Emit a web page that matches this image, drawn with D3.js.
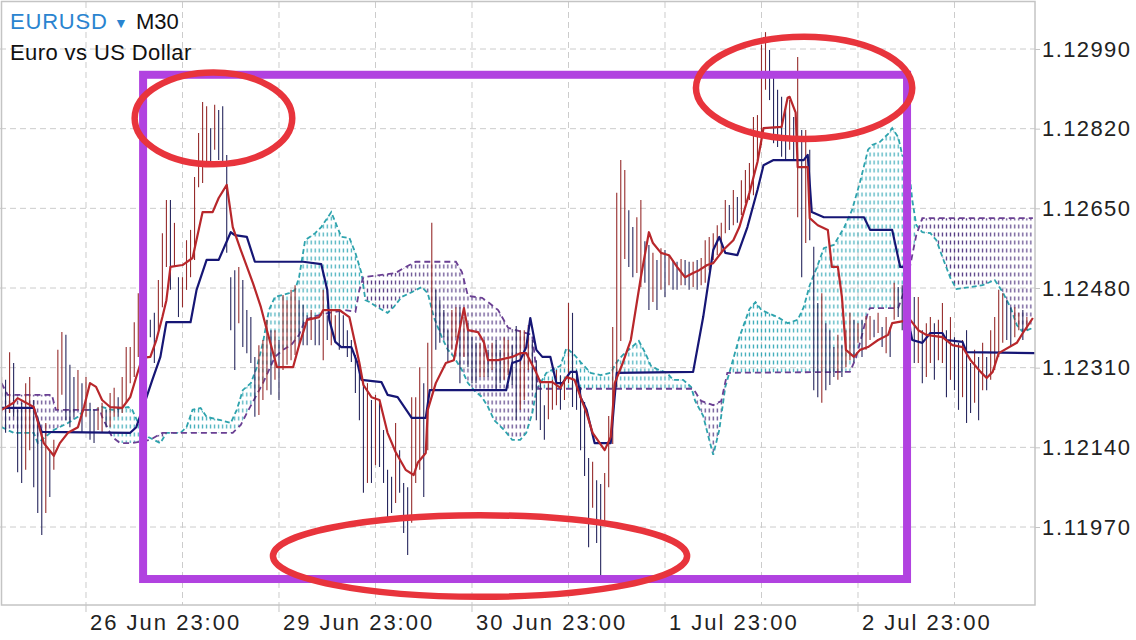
<!DOCTYPE html>
<html><head><meta charset="utf-8">
<script src="https://cdn.jsdelivr.net/npm/d3@7"></script>
<style>
html,body{margin:0;padding:0;background:#fff;}
svg{display:block;font-family:"Liberation Sans",Arial,Helvetica,sans-serif;}
</style></head><body>
<svg id="c" width="1136" height="640"></svg>
<script>
// ---------- DATA (EURUSD M30, bar index 0..255) ----------
const highs = [
1.12290,1.12284,1.12343,1.12320,1.12220,1.12235,1.12277,1.12290,1.12241,1.12205,
1.12171,1.12192,1.12134,1.12156,1.12348,1.12386,1.12380,1.12316,1.12290,1.12305,
1.12277,1.12290,1.12235,1.12220,1.12226,1.12235,1.12220,1.12256,1.12267,1.12247,
1.12290,1.12354,1.12354,1.12407,1.12469,1.12439,1.12418,1.12412,1.12427,1.12497,
1.12597,1.12668,1.12668,1.12619,1.12503,1.12503,1.12582,1.12604,1.12717,1.12811,
1.12877,1.12868,1.12821,1.12871,1.12860,1.12868,1.12764,1.12503,1.12518,1.12525,
1.12497,1.12433,1.12418,1.12333,1.12358,1.12369,1.12412,1.12390,1.12390,1.12369,
1.12465,1.12454,1.12476,1.12486,1.12454,1.12444,1.12422,1.12433,1.12422,1.12412,
1.12476,1.12422,1.12433,1.12422,1.12433,1.12422,1.12390,1.12369,1.12337,1.12316,
1.12277,1.12277,1.12241,1.12252,1.12235,1.12177,1.12092,1.12077,1.12192,1.12134,
1.12064,1.12055,1.12247,1.12247,1.12311,1.12277,1.12363,1.12619,1.12476,1.12454,
1.12433,1.12390,1.12433,1.12439,1.12439,1.12418,1.12405,1.12375,1.12363,1.12363,
1.12369,1.12348,1.12363,1.12369,1.12348,1.12375,1.12369,1.12358,1.12399,1.12390,
1.12390,1.12401,1.12369,1.12326,1.12284,1.12230,1.12277,1.12284,1.12305,1.12294,
1.12284,1.12448,1.12427,1.12305,1.12269,1.12237,1.12117,1.12109,1.12070,1.12062,
1.12085,1.12207,1.12397,1.12683,1.12753,1.12732,1.12646,1.12610,1.12631,1.12668,
1.12580,1.12572,1.12555,1.12540,1.12565,1.12561,1.12550,1.12540,1.12536,1.12542,
1.12540,1.12536,1.12536,1.12540,1.12544,1.12582,1.12589,1.12597,1.12614,1.12619,
1.12668,1.12657,1.12689,1.12674,1.12710,1.12732,1.12747,1.12845,1.12849,1.12999,
1.13026,1.12988,1.12939,1.12903,1.12888,1.12866,1.12881,1.12845,1.12973,1.12817,
1.12817,1.12775,1.12568,1.12448,1.12469,1.12405,1.12390,1.12354,1.12380,1.12358,
1.12390,1.12427,1.12412,1.12405,1.12412,1.12420,1.12420,1.12412,1.12427,1.12397,
1.12418,1.12397,1.12491,1.12482,1.12486,1.12476,1.12476,1.12461,1.12461,1.12390,
1.12405,1.12418,1.12405,1.12412,1.12448,1.12390,1.12418,1.12375,1.12363,1.12369,
1.12390,1.12320,1.12348,1.12333,1.12363,1.12333,1.12390,1.12418,1.12476,1.12469,
1.12454,1.12439,1.12439,1.12427,1.12433,1.12418];
const lows = [
1.12183,1.12171,1.12213,1.12205,1.12087,1.12064,1.12092,1.12134,1.12055,1.12000,
1.11953,1.12000,1.12034,1.12092,1.12220,1.12252,1.12198,1.12183,1.12205,1.12220,
1.12171,1.12205,1.12156,1.12149,1.12177,1.12171,1.12183,1.12183,1.12205,1.12205,
1.12213,1.12235,1.12277,1.12290,1.12333,1.12333,1.12375,1.12375,1.12320,1.12390,
1.12439,1.12525,1.12476,1.12525,1.12418,1.12439,1.12476,1.12503,1.12540,1.12695,
1.12704,1.12747,1.12742,1.12775,1.12753,1.12742,1.12555,1.12390,1.12305,1.12405,
1.12354,1.12341,1.12320,1.12205,1.12209,1.12241,1.12262,1.12252,1.12284,1.12241,
1.12305,1.12316,1.12326,1.12337,1.12358,1.12358,1.12358,1.12369,1.12358,1.12358,
1.12326,1.12369,1.12358,1.12369,1.12348,1.12354,1.12333,1.12322,1.12256,1.12198,
1.12043,1.12064,1.12064,1.12102,1.12098,1.12064,1.11991,1.12000,1.12021,1.12043,
1.11957,1.11910,1.11979,1.12064,1.12092,1.12034,1.12134,1.12262,1.12348,1.12363,
1.12375,1.12320,1.12348,1.12375,1.12277,1.12333,1.12311,1.12277,1.12277,1.12290,
1.12290,1.12290,1.12305,1.12262,1.12277,1.12284,1.12294,1.12273,1.12198,1.12220,
1.12241,1.12305,1.12262,1.12198,1.12177,1.12156,1.12200,1.12220,1.12230,1.12220,
1.12241,1.12277,1.12226,1.12220,1.12134,1.12079,1.11927,1.12011,1.11936,1.11865,
1.11981,1.12055,1.12147,1.12269,1.12367,1.12542,1.12525,1.12503,1.12512,1.12482,
1.12491,1.12433,1.12450,1.12433,1.12476,1.12461,1.12486,1.12476,1.12476,1.12486,
1.12486,1.12476,1.12482,1.12476,1.12486,1.12491,1.12518,1.12540,1.12550,1.12555,
1.12597,1.12604,1.12614,1.12619,1.12636,1.12661,1.12668,1.12678,1.12753,1.12785,
1.12903,1.12881,1.12789,1.12781,1.12760,1.12753,1.12775,1.12753,1.12631,1.12503,
1.12576,1.12582,1.12262,1.12247,1.12235,1.12262,1.12273,1.12290,1.12284,1.12290,
1.12311,1.12326,1.12322,1.12363,1.12333,1.12348,1.12369,1.12375,1.12384,1.12354,
1.12341,1.12333,1.12412,1.12418,1.12390,1.12427,1.12348,1.12320,1.12320,1.12277,
1.12290,1.12320,1.12284,1.12326,1.12320,1.12247,1.12284,1.12262,1.12220,1.12247,
1.12192,1.12213,1.12235,1.12198,1.12262,1.12262,1.12284,1.12305,1.12333,1.12363,
1.12369,1.12354,1.12375,1.12390,1.12369,1.12390];

// Ichimoku lines as [bar index, price] vertices
const tenkan = [[0,1.12220],[3,1.12235],[4,1.12245],[8,1.12226],[10.5,1.12149],[13,1.12122],[14.5,1.12149],[16.5,1.12171],[19,1.12183],[20.5,1.12226],[22,1.12277],[23.5,1.12269],[25,1.12241],[27,1.12226],[30,1.12224],[32,1.12247],[33.5,1.12290],[35,1.12331],[37,1.12333],[38.5,1.12369],[40,1.12418],[41,1.12454],[42,1.12525],[45,1.12529],[47.5,1.12544],[50,1.12642],[52.5,1.12642],[54,1.12672],[56,1.12700],[57.5,1.12610],[59.5,1.12561],[62.5,1.12491],[64.5,1.12439],[66,1.12390],[68.5,1.12311],[72.5,1.12311],[74,1.12358],[76,1.12412],[79,1.12418],[80,1.12433],[84,1.12433],[86.5,1.12418],[89,1.12320],[90,1.12273],[92,1.12247],[94,1.12241],[96,1.12171],[98,1.12130],[100.5,1.12092],[102.5,1.12081],[103.5,1.12107],[105.5,1.12128],[106,1.12220],[108,1.12277],[110.5,1.12320],[112.5,1.12326],[113.5,1.12375],[115,1.12437],[116,1.12390],[118.5,1.12386],[120,1.12363],[121,1.12326],[123.5,1.12326],[127,1.12333],[129,1.12341],[130.5,1.12341],[133,1.12299],[134,1.12279],[137,1.12279],[139,1.12267],[140.5,1.12290],[142.5,1.12284],[144,1.12247],[145.5,1.12213],[147,1.12171],[150,1.12134],[151.5,1.12162],[152.5,1.12277],[154.5,1.12320],[156.5,1.12369],[159,1.12503],[161,1.12599],[162,1.12576],[164,1.12555],[166,1.12550],[168,1.12525],[170,1.12503],[172,1.12512],[173.5,1.12518],[175.5,1.12529],[177,1.12533],[179.5,1.12561],[182,1.12582],[183.5,1.12610],[186,1.12683],[188,1.12749],[189.5,1.12821],[194,1.12824],[195.5,1.12886],[196,1.12888],[197.5,1.12854],[198,1.12738],[200.5,1.12738],[201,1.12629],[203,1.12614],[205.5,1.12604],[206.5,1.12525],[208,1.12525],[209,1.12461],[210,1.12348],[212,1.12333],[213.5,1.12348],[215.5,1.12354],[218,1.12369],[220.5,1.12380],[221.5,1.12405],[226,1.12412],[228,1.12390],[230,1.12380],[234,1.12375],[236.5,1.12358],[239,1.12354],[241,1.12326],[243.5,1.12301],[245,1.12288],[246.5,1.12301],[248,1.12341],[252.5,1.12363],[254,1.12384],[256.5,1.12416]];
const kijun = [[0,1.12224],[8,1.12224],[10,1.12173],[32,1.12171],[33.5,1.12183],[35,1.12220],[37.5,1.12284],[39.5,1.12333],[41,1.12407],[47,1.12407],[48.5,1.12476],[51,1.12540],[54,1.12540],[57,1.12599],[58,1.12593],[61,1.12589],[63,1.12536],[75,1.12536],[79.5,1.12531],[81,1.12476],[81.5,1.12412],[83,1.12365],[84.5,1.12354],[87,1.12354],[88.5,1.12320],[89.5,1.12284],[94.5,1.12279],[96,1.12252],[98.5,1.12247],[102,1.12203],[105.5,1.12203],[106.5,1.12262],[125.5,1.12262],[127,1.12320],[129,1.12326],[130.5,1.12354],[131.5,1.12416],[133,1.12348],[134.5,1.12333],[136.5,1.12333],[138,1.12277],[139.5,1.12277],[141.5,1.12301],[143,1.12301],[144,1.12247],[145.5,1.12220],[147.5,1.12149],[151.5,1.12149],[153,1.12299],[172,1.12301],[174.5,1.12418],[177,1.12561],[178.5,1.12589],[180,1.12555],[183,1.12550],[185.5,1.12610],[188,1.12689],[189.5,1.12742],[192,1.12753],[199.5,1.12753],[200.5,1.12764],[201.5,1.12642],[204.5,1.12631],[214.5,1.12631],[216,1.12604],[221.5,1.12604],[223.5,1.12525],[224.5,1.12525],[226,1.12390],[226.5,1.12369],[229,1.12363],[231,1.12384],[234,1.12384],[235,1.12369],[239,1.12365],[240,1.12343],[257,1.12341]];
const spanA = [[0,1.12183],[3,1.12171],[8,1.12171],[9,1.12149],[13,1.12177],[16.5,1.12192],[19,1.12205],[20.5,1.12220],[23.5,1.12220],[25,1.12226],[27.5,1.12220],[31.5,1.12226],[32.5,1.12220],[34,1.12192],[36.5,1.12162],[39.5,1.12149],[41,1.12171],[44.5,1.12171],[46,1.12183],[47.5,1.12220],[49.5,1.12224],[51,1.12205],[54.5,1.12198],[57,1.12192],[58.5,1.12220],[60,1.12262],[62,1.12277],[63.5,1.12311],[65,1.12363],[66.5,1.12433],[68,1.12461],[71.5,1.12469],[73,1.12476],[74,1.12503],[75.5,1.12582],[78,1.12597],[79.5,1.12610],[82,1.12642],[84.5,1.12589],[86.5,1.12587],[88,1.12555],[89.5,1.12512],[90.5,1.12454],[91.5,1.12450],[93.5,1.12439],[96,1.12427],[97.5,1.12439],[99.5,1.12461],[102,1.12471],[104.5,1.12482],[106,1.12469],[107.5,1.12418],[109.5,1.12375],[111,1.12348],[112.5,1.12333],[114.5,1.12305],[116,1.12277],[117.5,1.12262],[119.5,1.12247],[121,1.12226],[122.5,1.12198],[125,1.12177],[127,1.12156],[129,1.12156],[130.5,1.12171],[132,1.12213],[133,1.12262],[135.5,1.12299],[139,1.12314],[140.5,1.12352],[142.5,1.12337],[144,1.12322],[146.5,1.12299],[149,1.12294],[151.5,1.12299],[153,1.12322],[154.5,1.12337],[156.5,1.12352],[158.5,1.12367],[160,1.12343],[161.5,1.12314],[163,1.12307],[165.5,1.12299],[167,1.12284],[169.5,1.12284],[171.5,1.12269],[172.5,1.12239],[174.5,1.12207],[176,1.12156],[177,1.12124],[178.5,1.12177],[180,1.12269],[181,1.12299],[183.5,1.12375],[186,1.12435],[187.5,1.12450],[189,1.12433],[190.5,1.12427],[193,1.12418],[195.5,1.12405],[198,1.12412],[199.5,1.12439],[201,1.12486],[203,1.12529],[204.5,1.12565],[207,1.12572],[209.5,1.12608],[211.5,1.12646],[213.5,1.12706],[215.5,1.12775],[216.5,1.12785],[218.5,1.12792],[220.5,1.12809],[221.5,1.12821],[223,1.12802],[224,1.12764],[225.5,1.12749],[226.5,1.12668],[227.5,1.12614],[229,1.12599],[231,1.12597],[232.5,1.12582],[234,1.12546],[236,1.12501],[237.5,1.12478],[241,1.12482],[244,1.12486],[247,1.12497],[249,1.12471],[251,1.12437],[252.5,1.12401],[254,1.12386],[256.5,1.12395]];
const spanB = [[0,1.12277],[1.5,1.12252],[12.5,1.12252],[13.5,1.12220],[24.5,1.12220],[25,1.12205],[27.5,1.12162],[29.5,1.12149],[32.5,1.12149],[37,1.12156],[40,1.12171],[57.5,1.12171],[59.5,1.12188],[61,1.12213],[63,1.12245],[65,1.12277],[66.5,1.12305],[68,1.12333],[70,1.12348],[72,1.12358],[74,1.12380],[75.5,1.12412],[78,1.12420],[81.5,1.12427],[85.5,1.12433],[88,1.12429],[89,1.12476],[90,1.12503],[98,1.12512],[100.5,1.12525],[103,1.12536],[113,1.12536],[114.5,1.12514],[116,1.12463],[119.5,1.12459],[121,1.12450],[123.5,1.12433],[126,1.12395],[132,1.12380],[133.5,1.12265],[172,1.12265],[174,1.12239],[177,1.12230],[179,1.12239],[180.5,1.12299],[211,1.12301],[212.5,1.12331],[214,1.12380],[215.5,1.12429],[216,1.12437],[223,1.12437],[225,1.12486],[226.5,1.12550],[227.5,1.12593],[229,1.12629],[256.5,1.12629]];

const yTicks = [1.11970,1.12140,1.12310,1.12480,1.12650,1.12820,1.12990];
const xTickIdx = [21,69,117,165,213];
const xTickLabels = ["26 Jun 23:00","29 Jun 23:00","30 Jun 23:00","1 Jul 23:00","2 Jul 23:00"];
const xMinorIdx = [45,93,141,189,237];

// annotations in data units (bar index, price)
const boxAnno = {i0:35.2, i1:225.2, pTop:1.12935, pBot:1.11859};
const ellipses = [
  {ci:52.7, cp:1.12842, ri:19.6, rp:0.00098},
  {ci:199.6, cp:1.12907, ri:26.9, rp:0.00109},
  {ci:119.0, cp:1.11908, ri:51.5, rp:0.00087}
];

// ---------- CHART ----------
const svg = d3.select("#c");
const plotR = 1035, plotT = 2, plotB = 605;
const x = d3.scaleLinear().domain([0,257]).range([1.56,1034.9]);
const y = d3.scaleLinear().domain([1.11970,1.12990]).range([527,49]);

const defs = svg.append("defs");
defs.append("clipPath").attr("id","plot").append("rect")
  .attr("x",0).attr("y",plotT).attr("width",plotR).attr("height",plotB-plotT);
function hatch(id,color){
  const p = defs.append("pattern").attr("id",id).attr("patternUnits","userSpaceOnUse")
    .attr("width",x(1)-x(0)).attr("height",8).attr("x",x(0)-2);
  p.append("line").attr("x1",2).attr("x2",2).attr("y1",0.5).attr("y2",4.5)
    .attr("stroke",color).attr("stroke-width",1.2);
}
hatch("hC","#3aaab8");
hatch("hP","#553c84");

const aboveArea = d3.area().x(d=>x(d[0])).y0(plotT).y1(d=>y(d[1]));
const belowArea = d3.area().x(d=>x(d[0])).y0(plotB).y1(d=>y(d[1]));
defs.append("clipPath").attr("id","belowA").append("path").attr("d",belowArea(spanA));
defs.append("clipPath").attr("id","belowB").append("path").attr("d",belowArea(spanB));

// gridlines
const grid = svg.append("g");
grid.selectAll("line.h").data(yTicks).join("line")
  .attr("x1",0).attr("x2",plotR).attr("y1",d=>y(d)).attr("y2",d=>y(d))
  .attr("stroke","#cccccc").attr("stroke-width",1).attr("stroke-dasharray","6,4");
grid.selectAll("line.v").data(xTickIdx.concat(xMinorIdx)).join("line")
  .attr("x1",d=>x(d)).attr("x2",d=>x(d)).attr("y1",plotT).attr("y2",plotB)
  .attr("stroke","#cccccc").attr("stroke-width",1).attr("stroke-dasharray","6,4");

const plot = svg.append("g").attr("clip-path","url(#plot)");

// cloud hatch
plot.append("g").attr("clip-path","url(#belowA)")
  .append("path").attr("d",aboveArea(spanB)).attr("fill","url(#hC)");
plot.append("g").attr("clip-path","url(#belowB)")
  .append("path").attr("d",aboveArea(spanA)).attr("fill","url(#hP)");

const line = d3.line().x(d=>x(d[0])).y(d=>y(d[1]));
plot.append("path").attr("d",line(spanA)).attr("fill","none")
  .attr("stroke","#2ea3ad").attr("stroke-width",1.8).attr("stroke-dasharray","5,3");
plot.append("path").attr("d",line(spanB)).attr("fill","none")
  .attr("stroke","#6a3f93").attr("stroke-width",1.8).attr("stroke-dasharray","6,4");

// price bars
const bars = highs.map((h,i)=>({i,h,l:lows[i]}));
plot.append("g").selectAll("line").data(bars).join("line")
  .attr("x1",d=>x(d.i)).attr("x2",d=>x(d.i))
  .attr("y1",d=>y(d.h)).attr("y2",d=>y(d.l))
  .attr("stroke",d=>{
    if(d.i===0) return "#962c2c";
    const pm=(highs[d.i-1]+lows[d.i-1])/2, m=(d.h+d.l)/2;
    return m>=pm ? "#962c2c" : "#27275e";
  })
  .attr("stroke-width",1.1);

plot.append("path").attr("d",line(kijun)).attr("fill","none")
  .attr("stroke","#161675").attr("stroke-width",2.2).attr("stroke-linejoin","round");
plot.append("path").attr("d",line(tenkan)).attr("fill","none")
  .attr("stroke","#b8272b").attr("stroke-width",2.2).attr("stroke-linejoin","round");

// frame
svg.append("rect").attr("x",1.5).attr("y",1.5).attr("width",plotR-1.5).attr("height",plotB-1.5)
  .attr("fill","none").attr("stroke","#c4c4c4").attr("stroke-width",1.5);

// right axis
const yAxis = d3.axisRight(y).tickValues(yTicks).tickSize(5).tickPadding(2)
  .tickFormat(d3.format(".5f"));
const ya = svg.append("g").attr("transform",`translate(${plotR},0)`).call(yAxis);
ya.select(".domain").remove();
ya.selectAll(".tick line").attr("stroke","#c4c4c4");
ya.selectAll(".tick text").attr("font-size",22).attr("fill","#222")
  .attr("font-family","'Liberation Sans',Arial,sans-serif")
  .attr("x",7).attr("textLength",88).attr("lengthAdjust","spacing");

// bottom axis
const xa = svg.append("g");
xa.selectAll("line").data(xTickIdx).join("line")
  .attr("x1",d=>x(d)).attr("x2",d=>x(d)).attr("y1",plotB).attr("y2",plotB+7)
  .attr("stroke","#c4c4c4");
xa.selectAll("text").data(xTickIdx).join("text")
  .attr("x",d=>x(d)+4).attr("y",630)
  .attr("font-size",22).attr("fill","#222").attr("letter-spacing","2px")
  .text((d,k)=>xTickLabels[k]);

// title
const t1 = svg.append("text").attr("x",10).attr("y",29).attr("font-size",22);
t1.append("tspan").attr("fill","#2a84d0").attr("letter-spacing","0.8px").text("EURUSD");
svg.append("text").attr("x",114).attr("y",28).attr("font-size",14).attr("fill","#2a84d0").text("▼");
svg.append("text").attr("x",136).attr("y",29).attr("font-size",22).attr("fill","#111").text("M30");
svg.append("text").attr("x",10).attr("y",60).attr("font-size",22).attr("fill","#111")
  .attr("letter-spacing","0.4px").text("Euro vs US Dollar");

// annotations
svg.append("rect")
  .attr("x",x(boxAnno.i0)).attr("y",y(boxAnno.pTop))
  .attr("width",x(boxAnno.i1)-x(boxAnno.i0)).attr("height",y(boxAnno.pBot)-y(boxAnno.pTop))
  .attr("fill","none").attr("stroke","#b142e0").attr("stroke-width",8);
svg.append("g").selectAll("ellipse").data(ellipses).join("ellipse")
  .attr("cx",d=>x(d.ci)).attr("cy",d=>y(d.cp))
  .attr("rx",d=>x(d.ri)-x(0)).attr("ry",d=>y(d.cp - d.rp)-y(d.cp))
  .attr("fill","none").attr("stroke","#e8343c").attr("stroke-width",6.5);
</script></body></html>
